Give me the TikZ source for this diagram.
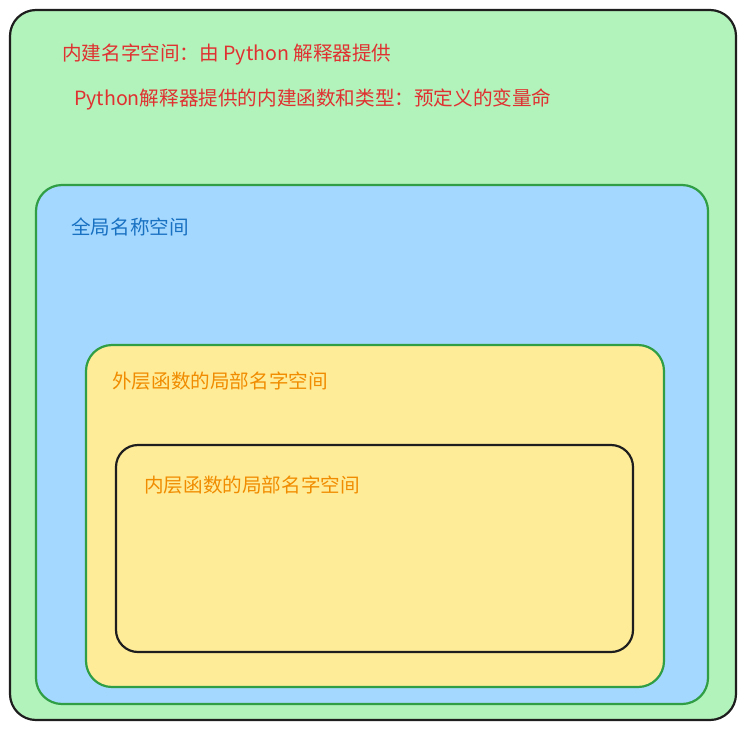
\documentclass[tikz,border=0pt]{standalone}
\usepackage{fontspec}
\setmainfont{Noto Sans CJK SC}
\definecolor{gfill}{HTML}{B2F2BB}
\definecolor{bfill}{HTML}{A5D8FF}
\definecolor{yfill}{HTML}{FFEC99}
\definecolor{gline}{HTML}{2F9E44}
\definecolor{kline}{HTML}{1E1E1E}
\definecolor{tred}{HTML}{E03131}
\definecolor{tblue}{HTML}{1971C2}
\definecolor{torange}{HTML}{F08C00}
\tikzset{
  zone/.style={rounded corners=#1, line width=2.2pt},
  label/.style={anchor=west, inner sep=0pt, font=\fontsize{19.6}{22}\selectfont, text height=14pt, text depth=4pt}
}
\begin{document}
\begin{tikzpicture}[x=1pt,y=-1pt]
\useasboundingbox (0,0) rectangle (746,731);
\fill[white] (0,0) rectangle (746,731);
\draw[zone=26pt, kline, fill=gfill] (10,10) rectangle (736,720);
\draw[zone=26pt, gline, fill=bfill] (36,185) rectangle (708,704);
\draw[zone=26pt, gline, fill=yfill] (86,345) rectangle (664,687);
\draw[zone=22pt, kline, fill=yfill] (116,445) rectangle (633,652);
\node[label, text=tred] (t1) at (62,55) {内建名字空间：由 Python 解释器提供};
\node[label, text=tred] (t2) at (74,100) {Python解释器提供的内建函数和类型：预定义的变量命};
\node[label, text=tblue] (t3) at (71,229) {全局名称空间};
\node[label, text=torange] (t4) at (112,383) {外层函数的局部名字空间};
\node[label, text=torange] (t5) at (144,487) {内层函数的局部名字空间};
\end{tikzpicture}
\end{document}
